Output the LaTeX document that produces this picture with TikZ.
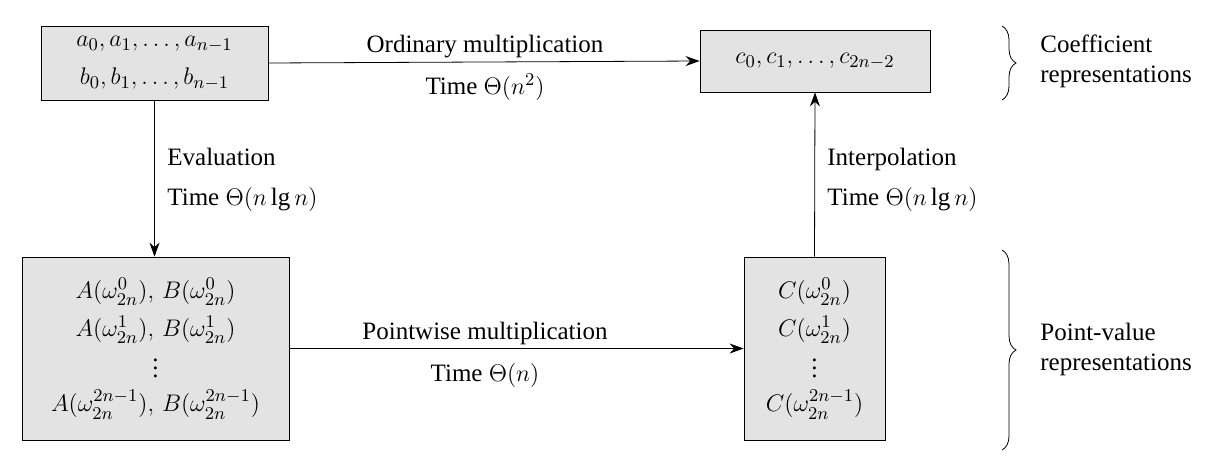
\documentclass[tikz,border=0pt]{standalone}
\usepackage{amsmath,amssymb}
\usepackage{fontspec}
\setmainfont{Liberation Serif}
\usetikzlibrary{arrows.meta,positioning,decorations.pathreplacing}

\begin{document}
\fontsize{12.5}{15}\selectfont
\begin{tikzpicture}[x=0.5pt,y=-0.5pt,>={Stealth[length=7pt,width=5pt]},
    repbox/.style={draw,fill=gray!22,inner sep=0pt,align=center},
    lbl/.style={inner sep=0pt,anchor=base},
    lbll/.style={inner sep=0pt,anchor=base west},
    bracebig/.style={decorate,decoration={brace,amplitude=7pt}}]
    \useasboundingbox (0,0) rectangle (1225,466);
    % boxes
    \node[repbox,minimum width=113.5pt,minimum height=37pt] (ab) at (154.5,63)
        {$a_0,a_1,\ldots,a_{n-1}$\\[4pt]$b_0,b_1,\ldots,b_{n-1}$};
    \node[repbox,minimum width=115pt,minimum height=31pt] (c) at (815,61)
        {$c_0,c_1,\ldots,c_{2n-2}$};
    \node[repbox,minimum width=133.5pt,minimum height=91.5pt] (AB) at (155.5,348.5)
        {$A(\omega_{2n}^0),\,B(\omega_{2n}^0)$\\[4pt]
         $A(\omega_{2n}^1),\,B(\omega_{2n}^1)$\\[1pt]
         $\vdots$\\[2pt]
         $A(\omega_{2n}^{2n-1}),\,B(\omega_{2n}^{2n-1})$};
    \node[repbox,minimum width=70.5pt,minimum height=91.5pt] (C) at (814.5,348.5)
        {$C(\omega_{2n}^0)$\\[4pt]
         $C(\omega_{2n}^1)$\\[1pt]
         $\vdots$\\[2pt]
         $C(\omega_{2n}^{2n-1})$};

    % connectors
    \draw[->] (ab.east) -- (c.west);
    \draw[->] (ab.south) -- (ab.south |- AB.north);
    \draw[->] (AB.east) -- (C.west);
    \draw[->] (C.north) -- (c.south);

    % labels
    \node[lbl] (om) at (485,52) {Ordinary multiplication};
    \node[lbl] (ot) at (485,94) {Time $\Theta(n^2)$};
    \node[lbll] (ev) at (167,165) {Evaluation};
    \node[lbll] (et) at (167,205) {Time $\Theta(n\lg n)$};
    \node[lbll] (ip) at (827,165) {Interpolation};
    \node[lbll] (it) at (827,205) {Time $\Theta(n\lg n)$};
    \node[lbl] (pm) at (485,339) {Pointwise multiplication};
    \node[lbl] (pt) at (485,381) {Time $\Theta(n)$};

    % braces
    \coordinate (b1) at (1002,26);
    \coordinate (b2) at (1002,100);
    \coordinate (b3) at (1002,250);
    \coordinate (b4) at (1002,450);
    \draw[bracebig] (b1) -- (b2);
    \draw[bracebig] (b3) -- (b4);
    \node[lbll] (cr1) at (1040,52) {Coefficient};
    \node[lbll] (cr2) at (1040,82) {representations};
    \node[lbll] (pv1) at (1040,340) {Point-value};
    \node[lbll] (pv2) at (1040,370) {representations};
\end{tikzpicture}
\end{document}
